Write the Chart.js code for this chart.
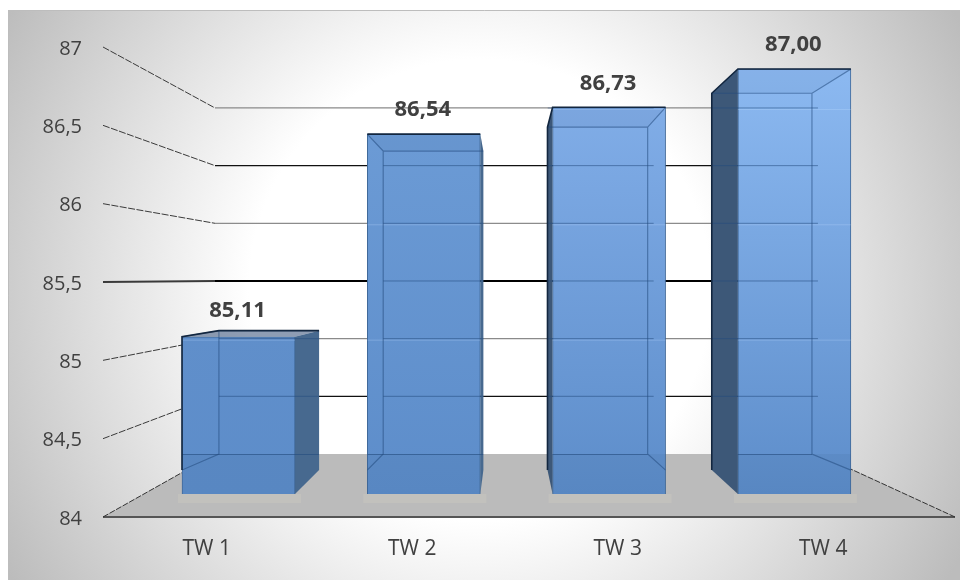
<!DOCTYPE html>
<html>
<head>
<meta charset="utf-8">
<style>html,body{margin:0;padding:0;background:#fff}canvas{display:block}</style>
<script src="https://cdn.jsdelivr.net/npm/chart.js@4/dist/chart.umd.js"></script>
</head>
<body>
<canvas id="c" width="960" height="580"></canvas>
<script>
const categories = ['TW 1', 'TW 2', 'TW 3', 'TW 4'];
const values = [85.11, 86.54, 86.73, 87.00];
const yMin = 84, yMax = 87, yStep = 0.5;
const gridColors = {84.5:'#111', 85:'#8a8a8a', 85.5:'#000', 86:'#8c8c8c', 86.5:'#111', 87:'#8a8a8a'};
const barTopColors = ['#6592cb', '#6e9dd7', '#84b0ea', '#8cb9f1'];
const comma = (v, d) => (d === undefined ? String(v) : v.toFixed(d)).replace('.', ',');
const FONT = '"Open Sans", sans-serif';

// perspective of the 3D box
const VX = 507.5, VY = 283, K = 0.8866;
const back = (x, y) => [VX + (x - VX) * K, VY + (y - VY) * K];
const wall = {l:215, r:818, y0:454, k:57.67/78.33};
const floorF = {l:103, r:955, y:517};

function poly(c, pts){ c.beginPath(); pts.forEach((p,i)=> i? c.lineTo(p[0],p[1]) : c.moveTo(p[0],p[1])); }
function boxOf(b){
  const hw = b.width/2, FL=b.x-hw, FR=b.x+hw, FT=b.y, FB=b.base;
  const [BL,BT]=back(FL,FT), [BR]=back(FR,FT), [,BB]=back(FL,FB);
  return {FL,FR,FT,FB,BL,BR,BT,BB};
}
function wallLines(c, s, stroke){
  s.ticks.forEach(t=>{
    if(t.value===yMin) return;
    const y=s.getPixelForValue(t.value), by=wall.y0+(y-floorF.y)*wall.k;
    stroke(t.value,[[floorF.l,y],[wall.l,by],[wall.r,by]],by);
  });
}
const scene = {
  id:'scene',
  beforeDraw(ch){
    const c=ch.ctx; c.save();
    c.fillStyle='#fff'; c.fillRect(0,0,960,580);
    const g=c.createRadialGradient(480,290,0,480,290,550);
    g.addColorStop(0,'#fff'); g.addColorStop(.42,'#fff'); g.addColorStop(1,'#bcbcbc');
    c.fillStyle=g; c.fillRect(8,10,952,570);
    c.strokeStyle='#bdbdbd'; c.lineWidth=1;
    c.beginPath(); c.moveTo(8.5,580); c.lineTo(8.5,10.5); c.lineTo(960,10.5); c.stroke();
    c.restore();
  },
  beforeDatasetsDraw(ch){
    const c=ch.ctx, s=ch.scales.y; c.save();
    // floor
    poly(c,[[floorF.l,floorF.y],[floorF.r,floorF.y],[wall.r,wall.y0],[wall.l,wall.y0]]);
    c.closePath(); c.fillStyle='#bbbbbb'; c.fill();
    c.strokeStyle='#555'; c.lineWidth=2;
    c.beginPath(); c.moveTo(floorF.l,floorF.y); c.lineTo(floorF.r,floorF.y); c.stroke();
    c.strokeStyle='#333'; c.lineWidth=1; c.setLineDash([6,1.5]);
    c.beginPath(); c.moveTo(floorF.l,floorF.y); c.lineTo(wall.l,wall.y0); c.stroke();
    c.beginPath(); c.moveTo(floorF.r,floorF.y); c.lineTo(wall.r,wall.y0); c.stroke();
    c.setLineDash([]);
    // wall grid: slanted side wall part, then back wall part
    wallLines(c,s,(v,pts)=>{
      c.strokeStyle='#3a3a3a'; c.lineWidth=v===85.5?2:1; c.setLineDash(v===85.5?[]:[7,1.5]);
      poly(c,pts.slice(0,2)); c.stroke();
      c.setLineDash([]);
      c.strokeStyle=gridColors[v]||'#555'; c.lineWidth=v===85.5?2:1.3;
      poly(c,pts.slice(1)); c.stroke();
    });
    // reflections + side faces
    ch.getDatasetMeta(0).data.forEach(b=>{
      const q=boxOf(b);
      c.fillStyle='rgba(200,198,192,.55)'; c.fillRect(q.FL-4,q.FB,q.FR-q.FL+10,9);
      if(q.BL<q.FL){
        poly(c,[[q.BL,q.BT],[q.FL,q.FT],[q.FL,q.FB],[q.BL,q.BB]]); c.closePath();
        c.fillStyle='#3d5878'; c.fill();
      }
      if(q.BR>q.FR){
        poly(c,[[q.FR,q.FT],[q.BR,q.BT],[q.BR,q.BB],[q.FR,q.FB]]); c.closePath();
        c.fillStyle='#47698f'; c.fill();
      }
    });
    c.restore();
  },
  afterDatasetsDraw(ch){
    const c=ch.ctx, s=ch.scales.y;
    ch.getDatasetMeta(0).data.forEach((b,i)=>{
      const q=boxOf(b); c.save();
      // what shows through the translucent box
      const L=Math.min(q.FL,q.BL), R=Math.max(q.FR,q.BR), T=Math.min(q.FT,q.BT);
      c.beginPath(); c.rect(L,T,R-L,q.FB-T); c.clip();
      wallLines(c,s,(v,pts)=>{
        const y=pts[2][1];
        c.strokeStyle='rgba(35,75,125,.55)'; c.lineWidth=1;
        c.beginPath(); c.moveTo(q.BL,y); c.lineTo(Math.min(q.BR+6,wall.r),y); c.stroke();
        if(gridColors[v]==='#8a8a8a'||gridColors[v]==='#8c8c8c'){
          c.strokeStyle='rgba(190,220,255,.3)';
          c.beginPath(); c.moveTo(q.FL,y+1.5); c.lineTo(q.FR,y+1.5); c.stroke();
        }
      });
      c.fillStyle='rgba(60,95,140,.12)';
      c.fillRect(q.FL,wall.y0,q.FR-q.FL,q.FB-wall.y0);
      c.strokeStyle='rgba(35,75,125,.6)'; c.lineWidth=1;
      c.beginPath(); c.moveTo(q.FL,wall.y0+.5); c.lineTo(q.BR,wall.y0+.5); c.stroke();
      // top / underside face
      poly(c,[[q.FL,q.FT],[q.BL,q.BT],[q.BR,q.BT],[q.FR,q.FT]]); c.closePath();
      c.fillStyle= q.BT<q.FT ? 'rgba(30,60,105,.5)' : 'rgba(60,90,130,.07)'; c.fill();
      // back rectangle edges and the corner diagonals
      c.strokeStyle='rgba(35,75,125,.55)'; c.lineWidth=1.2;
      c.beginPath();
      c.moveTo(q.BL,q.BT); c.lineTo(q.BR,q.BT);
      if(q.BL>q.FL){
        c.moveTo(q.FL,q.FT); c.lineTo(q.BL,q.BT); c.lineTo(q.BL,wall.y0);
        c.lineTo(q.FL,q.BB);
      }
      if(q.BR<q.FR){
        c.moveTo(q.FR,q.FT); c.lineTo(q.BR,q.BT); c.lineTo(q.BR,wall.y0);
        c.lineTo(q.FR,q.BB);
      }
      c.stroke();
      c.restore();
      // dark outline
      c.save();
      let pts;
      if(q.BL<q.FL) pts=[[q.BL,q.BB],[q.BL,q.BT],[q.FL,q.FT],[q.FR,q.FT]];
      else if(q.BT<q.FT) pts=[[q.FL,q.BB],[q.FL,q.FT],[q.BL,q.BT],[q.BR,q.BT]];
      else pts=[[q.FL,q.FT],[q.FR,q.FT]];
      c.strokeStyle='#12263f'; c.lineWidth=1.6; poly(c,pts); c.stroke();
      // value label
      c.fillStyle='#404040'; c.font='bold 22px '+FONT; c.textAlign='center'; c.textBaseline='middle';
      c.fillText(comma(values[i],2), b.x-1, q.FT-(q.BT<q.FT?26:24));
      c.restore();
    });
  }
};

new Chart(document.getElementById('c'), {
  type:'bar',
  data:{
    labels:categories,
    datasets:[{
      data:values.map((v,i)=>({x:i,y:v})),
      xAxisID:'xBar', yAxisID:'yBar',
      base:yMin,
      barThickness:113,
      borderWidth:1, borderColor:'#3f6898',
      backgroundColor(ctx){
        const g=ctx.chart.ctx.createLinearGradient(0,69,0,494);
        g.addColorStop(0,barTopColors[ctx.dataIndex]||'#6e9dd7');
        g.addColorStop(1,'#5d8dca');
        return g;
      }
    }]
  },
  plugins:[scene],
  options:{
    responsive:false, animation:false, devicePixelRatio:1,
    layout:{padding:{top:47,right:34,bottom:0,left:0}},
    plugins:{legend:{display:false},tooltip:{enabled:false}},
    scales:{
      x:{
        type:'category', position:'bottom', offset:true,
        grid:{display:false}, border:{display:false},
        ticks:{color:'#404040',font:{family:FONT,size:21},padding:11,maxRotation:0},
        afterFit(a){a.height=63;}
      },
      y:{
        type:'linear', position:'left', min:yMin, max:yMax,
        grid:{display:false,drawTicks:false}, border:{display:false},
        ticks:{stepSize:yStep,color:'#404040',font:{family:FONT,size:20},padding:22,labelOffset:2,
               callback:v=>comma(v)},
        afterFit(a){a.width=104;}
      },
      xBar:{type:'linear',display:false,offset:false,min:(104-238.5)/185.3,max:(926-238.5)/185.3},
      yBar:{type:'linear',display:false,min:84-(517-494)/141.67,max:87+(69-47)/141.67}
    }
  }
});
</script>
</body>
</html>
